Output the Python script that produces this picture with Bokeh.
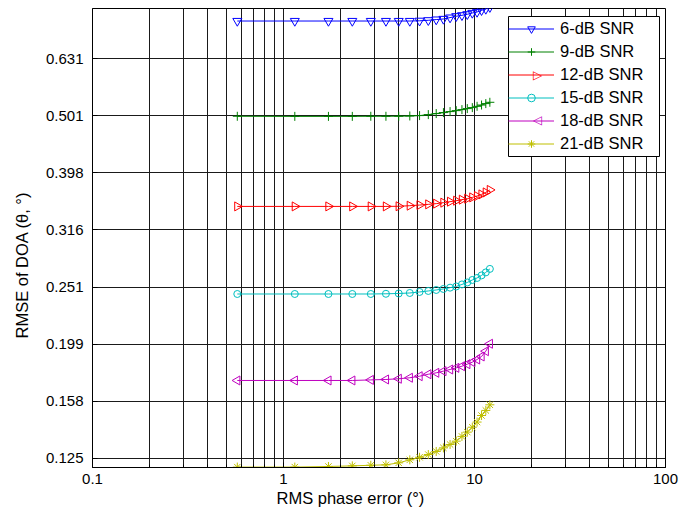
import math
from bokeh.plotting import figure
from bokeh.models import Range1d, FixedTicker, Legend, LegendItem, Label, Title, BoxAnnotation
from bokeh.embed import file_html
from bokeh.resources import INLINE

# RMS phase error (degrees)
x_deg = [0.573, 1.146, 1.719, 2.292, 2.865, 3.438, 4.011, 4.584, 5.157, 5.730, 6.303,
         6.876, 7.449, 8.022, 8.595, 9.168, 9.741, 10.314, 10.887, 11.460, 12.033]

snr6 = [0.734, 0.734, 0.734, 0.734, 0.734, 0.734, 0.734, 0.734, 0.7347, 0.7362, 0.7383,
        0.7401, 0.7442, 0.7482, 0.7511, 0.7542, 0.7582, 0.7612, 0.7665, 0.7705, 0.7761]
snr9 = [0.5000, 0.4998, 0.4998, 0.4998, 0.5000, 0.5000, 0.5001, 0.5006, 0.5014, 0.5034, 0.5055,
        0.5075, 0.5095, 0.5115, 0.5136, 0.5157, 0.5178, 0.5205, 0.5232, 0.5262, 0.5290]
snr12 = [0.3477, 0.3477, 0.3477, 0.3477, 0.3477, 0.3477, 0.3479, 0.3487, 0.3496, 0.3506, 0.3516,
         0.3530, 0.3544, 0.3558, 0.3573, 0.3587, 0.3606, 0.3625, 0.3650, 0.3679, 0.3716]
snr15 = [0.2443, 0.2443, 0.2443, 0.2443, 0.2443, 0.2445, 0.2448, 0.2453, 0.2463, 0.2473, 0.2483,
         0.2493, 0.2506, 0.2518, 0.2539, 0.2559, 0.2585, 0.2606, 0.2633, 0.2665, 0.2703]
snr18 = [0.1724, 0.1724, 0.1724, 0.1724, 0.1728, 0.1731, 0.1736, 0.1743, 0.1754, 0.1768, 0.1778,
         0.1790, 0.1802, 0.1814, 0.1826, 0.1841, 0.1856, 0.1876, 0.1899, 0.1940, 0.1999]
snr21 = [0.1216, 0.1216, 0.1219, 0.1222, 0.1225, 0.1227, 0.1237, 0.1252, 0.1265, 0.1279, 0.1295,
         0.1314, 0.1332, 0.1350, 0.1376, 0.1400, 0.1428, 0.1458, 0.1497, 0.1528, 0.1563]

series_labels = ["6-dB SNR", "9-dB SNR", "12-dB SNR", "15-dB SNR", "18-dB SNR", "21-dB SNR"]
series_values = [snr6, snr9, snr12, snr15, snr18, snr21]
series_colors = ["#0000ff", "#008000", "#ff0000", "#00bfbf", "#bf00bf", "#bfbf00"]
series_markers = ["inverted_triangle", "cross", "triangle", "circle", "triangle", "asterisk"]
series_angles = [0.0, 0.0, -math.pi / 2, 0.0, math.pi / 2, 0.0]
series_sizes = [9, 9, 9, 7, 9, 9]
legend_symbols = [None, None, "▷", None, "◁", None]

x_ticks = [0.1, 1, 10, 100]
x_minor = [0.2, 0.3, 0.4, 0.5, 0.6, 0.7, 0.8, 0.9, 2, 3, 4, 5, 6, 7, 8, 9,
           20, 30, 40, 50, 60, 70, 80, 90]
y_tick_values = [0.12589, 0.15849, 0.19953, 0.25119, 0.31623, 0.39811, 0.50119, 0.63096]
y_tick_labels = ["0.125", "0.158", "0.199", "0.251", "0.316", "0.398", "0.501", "0.631"]

FONT = "Liberation Sans"

p = figure(width=693, height=513, x_axis_type="log", y_axis_type="log",
           x_range=Range1d(0.1, 100), y_range=Range1d(0.1214, 0.772),
           output_backend="svg", toolbar_location=None,
           min_border_left=92, min_border_right=28, min_border_top=8, min_border_bottom=46)
p.background_fill_color = "white"
p.border_fill_color = "white"
p.outline_line_color = "black"
p.outline_line_width = 1

p.xaxis.ticker = FixedTicker(ticks=x_ticks, minor_ticks=x_minor)
p.yaxis.ticker = FixedTicker(ticks=y_tick_values, minor_ticks=[])
p.xaxis.major_label_overrides = {0.1: "0.1", 1: "1", 10: "10", 100: "100"}
p.yaxis.major_label_overrides = {v: s for v, s in zip(y_tick_values, y_tick_labels)}

for ax in (p.xaxis, p.yaxis):
    ax.axis_line_color = "black"
    ax.major_tick_line_color = "black"
    ax.minor_tick_line_color = "black"
    ax.major_tick_in = 5
    ax.major_tick_out = 0
    ax.minor_tick_in = 3
    ax.minor_tick_out = 0
    ax.major_label_text_font = FONT
    ax.major_label_text_font_size = "15px"
    ax.major_label_text_color = "black"

p.yaxis.major_label_standoff = 9
p.xaxis.major_label_standoff = 6

p.xgrid.grid_line_color = "#1a1a1a"
p.xgrid.grid_line_width = 1
p.xgrid.minor_grid_line_color = "#1a1a1a"
p.xgrid.minor_grid_line_width = 1
p.ygrid.grid_line_color = "#1a1a1a"
p.ygrid.grid_line_width = 1

items = []
for lab, vals, col, mk, ang, sz, sym in zip(series_labels, series_values, series_colors,
                                            series_markers, series_angles, series_sizes,
                                            legend_symbols):
    r1 = p.line(x_deg, vals, line_color=col, line_width=1)
    r2 = p.scatter(x_deg, vals, marker=mk, angle=ang, size=sz, line_color=col,
                   fill_color=None, line_width=1)
    items.append(LegendItem(label=lab, renderers=[r1] if sym else [r1, r2]))

# legend panel (screen units measured from the frame's bottom-left corner)
LEG_LEFT, LEG_BOTTOM, LEG_RIGHT, LEG_TOP = 416, 311, 567, 451
p.add_layout(BoxAnnotation(left=LEG_LEFT, right=LEG_RIGHT, bottom=LEG_BOTTOM, top=LEG_TOP,
                           left_units="screen", right_units="screen",
                           bottom_units="screen", top_units="screen",
                           fill_color="white", fill_alpha=1.0,
                           line_color="black", line_width=1, line_alpha=1.0))

legend = Legend(items=items, location=(LEG_LEFT, LEG_BOTTOM + 3))
legend.label_text_font = FONT
legend.label_text_font_size = "16.5px"
legend.label_text_color = "black"
legend.glyph_width = 46
legend.glyph_height = 19
legend.label_height = 19
legend.label_standoff = 6
legend.spacing = 4
legend.padding = 6
legend.margin = 0
legend.border_line_color = None
legend.background_fill_alpha = 0.0
p.add_layout(legend, "center")

# sideways triangle symbols for the legend entries
leg_glyph_x = LEG_LEFT + 6 + 46 / 2
first_entry_y = LEG_TOP - 12.4
entry_pitch = 22.8
for i, (sym, col) in enumerate(zip(legend_symbols, series_colors)):
    if sym:
        p.add_layout(Label(x=leg_glyph_x, y=first_entry_y - i * entry_pitch, x_units="screen",
                           y_units="screen", text=sym, text_align="center",
                           text_baseline="middle", text_font="DejaVu Sans",
                           text_font_size="12px", text_color=col))

xt = Title(text="RMS phase error (°)", align="left", offset=184, standoff=0,
           text_font=FONT, text_font_size="16.5px", text_font_style="normal",
           text_color="black")
p.add_layout(xt, "below")
yt = Title(text="RMSE of DOA (θ, °)", align="left", offset=129, standoff=21,
           vertical_align="middle",
           text_font=FONT, text_font_size="16.5px", text_font_style="normal",
           text_color="black")
p.add_layout(yt, "left")

open("out.html", "w").write(file_html(p, INLINE))
